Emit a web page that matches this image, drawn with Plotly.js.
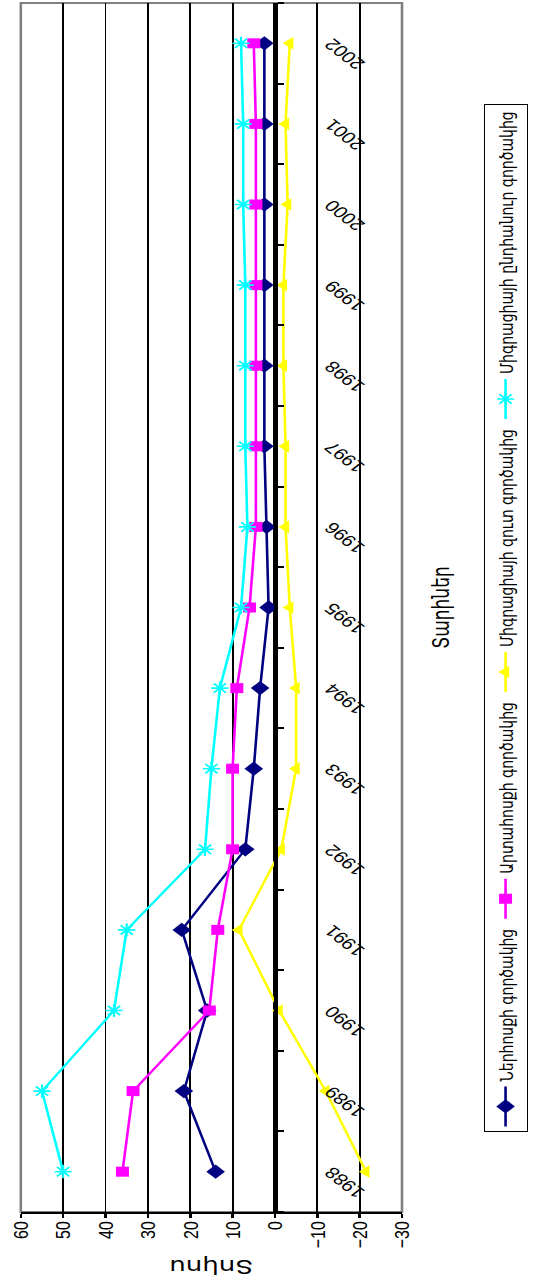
<!DOCTYPE html>
<html><head><meta charset="utf-8">
<script src="https://cdn.plot.ly/plotly-3.0.1.min.js"></script>
<style>
html,body{margin:0;padding:0;background:#fff;overflow:hidden;width:536px;height:1279px;}
#chart{position:absolute;left:0;top:0;width:1279px;height:412px;transform-origin:0 0;transform:matrix(0,-1,1.301,0,0,1279);}
</style></head><body><div id="chart"></div>
<script>
const years = ['1988','1989','1990','1991','1992','1993','1994','1995','1996','1997','1998','1999','2000','2001','2002'];
const seriesNames = ['Ներհոսքի գործակից','Արտահոսքի գործակից','Միգրացիայի զուտ գործակից','Միգրացիայի ընդհանուր գործակից'];
const inflowRate  = [14, 21.5, 16, 22, 7, 5, 3.5, 1.5, 2, 2.5, 2.5, 2.5, 2.5, 2.5, 2.5];
const outflowRate = [36, 33.5, 15.5, 13.5, 10, 10, 9, 6, 4.5, 4.5, 4.5, 4.5, 4.5, 4.5, 5];
const netRate     = [-21.5, -12, -1, 8.5, -1.5, -5, -5, -3.5, -2.5, -2.5, -2, -2, -3, -2.5, -3.5];
const grossRate   = [50, 55, 38, 35, 16.5, 15, 13, 8, 6.5, 7, 7, 7, 7.5, 7.5, 8];
const yTitle = 'Տոկոս';
const xTitle = 'Տարիներ';

const armFont = 'DejaVu Sans, Noto Sans, sans-serif';
const numFont = 'Liberation Sans, Arial, sans-serif';

function tr(name, vals, color, symbol, size, open){
  return {
    type:'scatter', mode:'lines+markers', name:name, x:years, y:vals,
    line:{color:color, width:2},
    marker:{symbol:symbol, size:size, color:color, line:{width: open?1.6:0, color:color}},
    cliponaxis:false
  };
}
const data = [
  tr(seriesNames[0], inflowRate, '#000080', 'diamond', 11, false),
  tr(seriesNames[1], outflowRate, '#FF00FF', 'square', 10, false),
  tr(seriesNames[2], netRate, '#FFFF00', 'triangle-up', 11, false),
  tr(seriesNames[3], grossRate, '#00FFFF', 'asterisk-open', 11, true)
];
const layout = {
  width:1279, height:412,
  margin:{l:67, r:3, t:16, b:103},
  paper_bgcolor:'#fff', plot_bgcolor:'#fff',
  showlegend:true,
  xaxis:{
    type:'category', range:[-0.5,14.5], anchor:'free', position:1/3,
    showline:true, linecolor:'#000', linewidth:3,
    ticks:'outside', ticklen:5, tickwidth:2, tickcolor:'#000', tickson:'boundaries',
    tickangle:-45, ticklabelstandoff:26, showgrid:false, zeroline:false,
    tickfont:{family:numFont, size:16, color:'#000'},
    title:{text:xTitle, standoff:50, font:{family:armFont, size:17, color:'#000'}}
  },
  yaxis:{
    range:[-30,60], dtick:10, tick0:0,
    showline:true, linecolor:'#000', linewidth:2,
    ticks:'outside', ticklen:4, tickwidth:2, tickcolor:'#000',
    showgrid:true, gridcolor:'#000', gridwidth:1.5,
    zeroline:true, zerolinecolor:'#000', zerolinewidth:3,
    tickfont:{family:numFont, size:16, color:'#000'},
    title:{text:yTitle, standoff:10, font:{family:armFont, size:20, color:'#000'}}
  },
  shapes:[{type:'rect', xref:'paper', yref:'paper', x0:0, x1:1, y0:0, y1:1,
           line:{color:'#808080', width:2}, layer:'between'}],
  legend:{orientation:'h', x:0.491, xanchor:'center', y:-0.215, yanchor:'top',
          bgcolor:'#fff', bordercolor:'#000', borderwidth:1,
          font:{family:armFont, size:14, color:'#000'},
          itemwidth:40, traceorder:'normal'}
};
Plotly.newPlot('chart', data, layout, {displayModeBar:false, staticPlot:true});
</script></body></html>
